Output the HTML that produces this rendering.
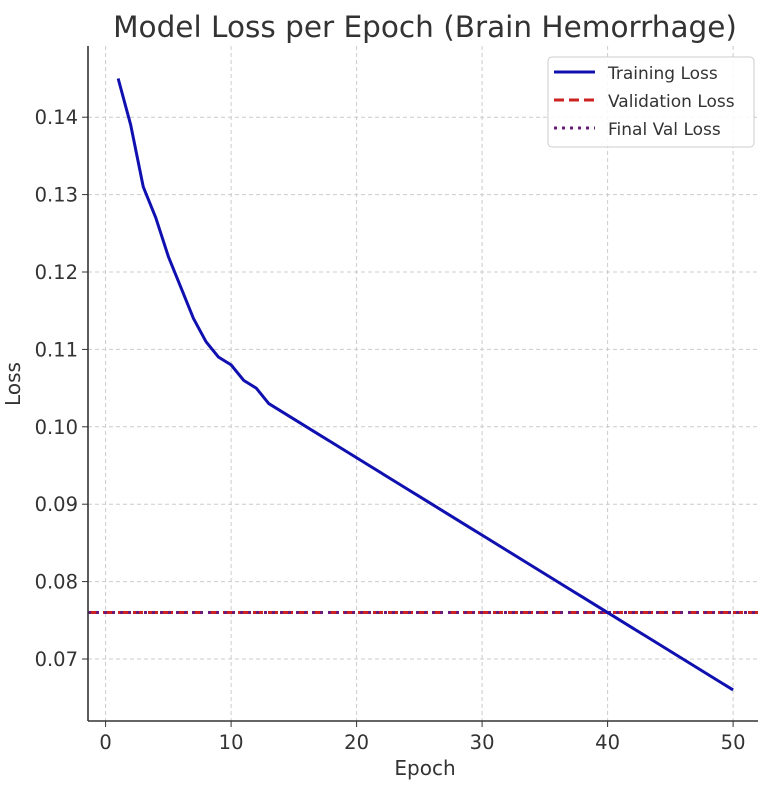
<!DOCTYPE html>
<html><head><meta charset="utf-8"><style>
body{margin:0;background:#fff;}
svg text{font-family:"DejaVu Sans","Liberation Sans",sans-serif;fill:#333;}
</style></head><body>
<svg id="chart" width="776" height="793" xmlns="http://www.w3.org/2000/svg">
<text x="425" y="37" font-size="29.5" text-anchor="middle">Model Loss per Epoch (Brain Hemorrhage)</text>
<g id="grid"></g>
<g id="series"></g>
<line x1="88" y1="46" x2="88" y2="721" stroke="#333" stroke-width="1.6"/>
<line x1="88" y1="721" x2="758" y2="721" stroke="#333" stroke-width="1.6"/>
<g id="ticks"></g>
<text x="425" y="775" font-size="20" text-anchor="middle">Epoch</text>
<text x="20" y="384" font-size="20" text-anchor="middle" transform="rotate(-90 20 384)">Loss</text>
<g>
<rect x="548" y="57" width="206" height="90" rx="4" fill="#fff" fill-opacity="0.85" stroke="#ccc"/>
<line x1="554" y1="72" x2="595" y2="72" stroke="#1010b0" stroke-width="3"/>
<text x="608" y="79" font-size="17">Training Loss</text>
<line x1="554" y1="100" x2="595" y2="100" stroke="#cc2222" stroke-width="3" stroke-dasharray="10,5"/>
<text x="608" y="107" font-size="17">Validation Loss</text>
<line x1="554" y1="128" x2="595" y2="128" stroke="#6a1a7a" stroke-width="3" stroke-dasharray="3,5"/>
<text x="608" y="135" font-size="17">Final Val Loss</text>
</g>
</svg>
<script>
const epochs=[1,2,3,4,5,6,7,8,9,10,11,12,13,14,15,16,17,18,19,20,21,22,23,24,25,26,27,28,29,30,31,32,33,34,35,36,37,38,39,40,41,42,43,44,45,46,47,48,49,50];
const trainLoss=[0.145,0.139,0.131,0.127,0.122,0.118,0.114,0.111,0.109,0.108,0.106,0.105,0.103,0.102,0.101,0.100,0.099,0.098,0.097,0.096,0.095,0.094,0.093,0.092,0.091,0.090,0.089,0.088,0.087,0.086,0.085,0.084,0.083,0.082,0.081,0.080,0.079,0.078,0.077,0.076,0.075,0.074,0.073,0.072,0.071,0.070,0.069,0.068,0.067,0.066];
const valLoss=0.076;
const finalValLoss=0.076;
const xTicks=[0,10,20,30,40,50];
const yTicks=[0.07,0.08,0.09,0.10,0.11,0.12,0.13,0.14];
const yTickLabels=["0.07","0.08","0.09","0.10","0.11","0.12","0.13","0.14"];
const NS="http://www.w3.org/2000/svg";
const X=v=>105.6+v*12.55;
const Y=v=>659-(v-0.07)*7740;
const L=88,R=758,T=46,B=721;
function mk(t,a,p){const e=document.createElementNS(NS,t);for(const k in a)e.setAttribute(k,a[k]);p.appendChild(e);return e;}
const grid=document.getElementById('grid'),ticks=document.getElementById('ticks'),series=document.getElementById('series');
xTicks.forEach(v=>{
 const g=mk('line',{x1:X(v),x2:X(v),y1:T,y2:B,stroke:'#ccc','stroke-dasharray':'4,3'},grid);
 
 
 mk('line',{x1:X(v),x2:X(v),y1:B,y2:B+6,stroke:'#333'},ticks);
 const t=mk('text',{x:X(v),y:B+28,'font-size':19.5,'text-anchor':'middle'},ticks);t.textContent=v;
 
 
});
yTicks.forEach((v,i)=>{
 const g=mk('line',{x1:L,x2:R,y1:Y(v),y2:Y(v),stroke:'#ccc','stroke-dasharray':'4,3'},grid);
 
 
 mk('line',{x1:L-6,x2:L,y1:Y(v),y2:Y(v),stroke:'#333'},ticks);
 const t=mk('text',{x:L-10,y:Y(v)+7,'font-size':19.5,'text-anchor':'end'},ticks);t.textContent=yTickLabels[i];
 
 
});
const v=mk('line',{x1:L,x2:R,y1:Y(valLoss),y2:Y(valLoss),stroke:'#cc2222','stroke-width':3,'stroke-dasharray':'10,5'},series);


const f=mk('line',{x1:L,x2:R,y1:Y(finalValLoss),y2:Y(finalValLoss),stroke:'#6a1a7a','stroke-width':3,'stroke-dasharray':'3,5'},series);


const p=mk('polyline',{points:epochs.map((e,i)=>X(e)+','+Y(trainLoss[i])).join(' '),fill:'none',stroke:'#1010b0','stroke-width':3,'stroke-linejoin':'round'},series);


</script>
</body></html>
